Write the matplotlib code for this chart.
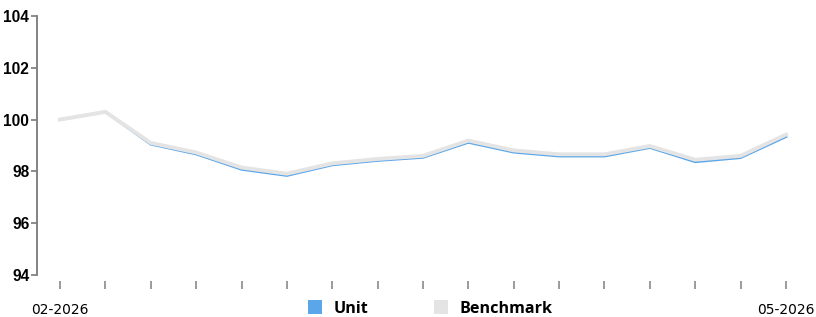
import matplotlib
matplotlib.use("Agg")
import matplotlib.pyplot as plt
from matplotlib.lines import Line2D
from matplotlib import font_manager as fm

# ---- data ----
x_labels = ["02-2026", "", "", "", "", "", "", "", "", "", "", "", "", "", "", "", "05-2026"]
unit = [100.0, 100.3, 99.05, 98.67, 98.08, 97.84, 98.25, 98.42, 98.54, 99.12,
        98.74, 98.59, 98.59, 98.92, 98.37, 98.53, 99.34]
benchmark = [100.0, 100.3, 99.10, 98.73, 98.15, 97.91, 98.31, 98.48, 98.60, 99.19,
             98.81, 98.66, 98.66, 98.98, 98.45, 98.60, 99.42]
y_ticks = [94, 96, 98, 100, 102, 104]

BLUE = "#5AA6E8"
GRAY = "#E4E4E4"

# pick regular-width Liberation Sans Bold explicitly
ytick_fp = None
for f in fm.fontManager.ttflist:
    if f.name == "Liberation Sans" and f.weight in (700, "bold") and "Narrow" not in f.fname \
            and f.style == "normal":
        ytick_fp = fm.FontProperties(fname=f.fname, size=11.2)
        break
if ytick_fp is None:
    ytick_fp = fm.FontProperties(family="DejaVu Sans", weight="bold", size=10.5)

W, H = 816, 317
fig = plt.figure(figsize=(W / 100, H / 100), dpi=100)
ax = fig.add_axes([37 / W, 42 / H, (809 - 37) / W, (275 - 16) / H])

xs = list(range(len(unit)))
ax.plot(xs, unit, color=BLUE, lw=1.9, zorder=2, solid_joinstyle="miter")
ax.plot(xs, benchmark, color=GRAY, lw=2.8, zorder=3, solid_joinstyle="miter")

ax.set_xlim(-0.507, len(unit) - 1 + 0.507)
ax.set_ylim(94, 104)
ax.set_yticks(y_ticks)
ax.set_yticklabels([str(v) for v in y_ticks], fontproperties=ytick_fp, color="#000000")
ax.set_xticks(xs)
ax.set_xticklabels(x_labels, family="Open Sans", fontweight="bold",
                   fontsize=10.8, color="#111111")

for s in ["top", "right"]:
    ax.spines[s].set_visible(False)
ax.spines["bottom"].set_visible(False)
ax.spines["bottom"].set_position(("outward", 4))
ax.spines["left"].set_color("#7a7a7a")
ax.spines["left"].set_linewidth(1.3)

ax.tick_params(axis="y", length=4, width=1.2, color="#7a7a7a", pad=1.5)
ax.tick_params(axis="x", length=6, width=1.2, color="#8a8a8a", pad=10)

handles = [
    Line2D([], [], marker="s", ls="", markersize=9.4, color=BLUE, markeredgewidth=0),
    Line2D([], [], marker="s", ls="", markersize=9.4, color=GRAY, markeredgewidth=0),
]
fig.legend(handles, ["Unit", "Benchmark"], loc="center",
           bbox_to_anchor=(430 / W, 8 / H), ncol=2, frameon=False,
           prop={"family": "Open Sans", "weight": "bold", "size": 11.6},
           handlelength=1.0, handletextpad=0.65, columnspacing=4.0,
           borderpad=0, borderaxespad=0)

fig.savefig("out.png", dpi=100)
